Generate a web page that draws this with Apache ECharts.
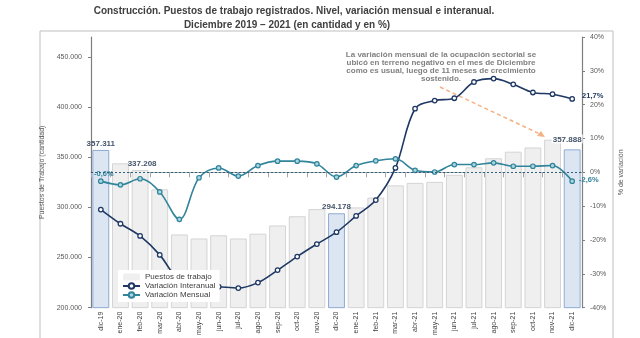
<!DOCTYPE html>
<html>
<head>
<meta charset="utf-8">
<script src="https://cdn.jsdelivr.net/npm/echarts@6/dist/echarts.min.js"></script>
<style>html,body{margin:0;padding:0;background:#fff}#c{width:640px;height:338px}</style>
</head>
<body>
<div id="c"></div>
<script>
const categories = ['dic-19','ene-20','feb-20','mar-20','abr-20','may-20','jun-20','jul-20','ago-20','sep-20','oct-20','nov-20','dic-20','ene-21','feb-21','mar-21','abr-21','may-21','jun-21','jul-21','ago-21','sep-21','oct-21','nov-21','dic-21'];
const puestos = [357311,344000,337208,318000,273000,269000,272200,269000,273800,282000,291200,298300,294178,300000,309800,322000,324500,325500,332600,340000,349000,355600,359800,367600,357888];
const interanual = [-11.0,-15.2,-18.8,-24.4,-32.0,-33.5,-33.8,-34.2,-32.6,-28.9,-24.9,-21.2,-17.7,-12.9,-8.2,1.3,18.8,21.2,21.9,26.7,27.7,26.0,23.6,23.1,21.7];
const mensual = [-2.6,-3.7,-1.9,-5.8,-13.9,-1.6,1.3,-1.1,2.0,3.3,3.3,2.5,-1.4,2.0,3.4,4.0,0.6,0.1,2.3,2.3,2.8,1.8,1.8,2.0,-2.6];
const highlighted = [0, 12, 24];
const barLabelIdx = [0, 2, 12, 24];
const leftTicks = {min: 200000, max: 470000, interval: 50000};
const rightTicks = {min: -40, max: 40, interval: 10};
const mensualLabels = {0: '-0,6%', 24: '-2,6%'};
const interanualLabels = {24: '21,7%'};
const titleLines = ['Construcción. Puestos de trabajo registrados. Nivel, variación mensual e interanual.', 'Diciembre 2019 – 2021 (en cantidad y en %)'];
const noteText = 'La variación mensual de la ocupación sectorial se\nubicó en terreno negativo en el mes de Diciembre\ncomo es usual, luego de 11 meses de crecimiento\nsostenido.';

const fmtThousands = v => String(v).replace(/\B(?=(\d{3})+(?!\d))/g, '.');
const FONT = 'Liberation Sans, Arial, sans-serif';

const barData = puestos.map((v, i) => {
  const hi = highlighted.includes(i);
  const item = {
    value: v,
    itemStyle: hi ? {color: '#dce6f2', borderColor: '#8eaad2', borderWidth: 1}
                  : {color: '#efefef', borderColor: '#d4d4d4', borderWidth: 1}
  };
  if (barLabelIdx.includes(i)) {
    item.label = {
      show: true, position: 'top', distance: 2,
      formatter: p => fmtThousands(p.value),
      fontSize: 8, fontWeight: 'bold', color: '#44546a', fontFamily: FONT,
      backgroundColor: i === 24 ? '#fff' : 'transparent', padding: [1, 1, 0, 1],
      offset: i === 24 ? [-5, -4] : (i === 2 ? [2, 0] : [0, 0])
    };
  }
  return item;
});

const mensData = mensual.map((v, i) => {
  const it = {value: v};
  if (mensualLabels[i]) {
    it.label = {
      show: true, formatter: mensualLabels[i], fontSize: 7.5, fontWeight: 'bold',
      color: '#31849b', fontFamily: FONT,
      position: i === 0 ? 'top' : 'right', distance: 4,
      offset: i === 0 ? [3, 4] : [0, -1]
    };
  }
  return it;
});
const interData = interanual.map((v, i) => {
  const it = {value: v};
  if (interanualLabels[i]) {
    it.label = {
      show: true, formatter: interanualLabels[i], fontSize: 7.5, fontWeight: 'bold',
      color: '#1f3864', fontFamily: FONT, position: 'right', distance: 7, offset: [0, -3]
    };
  }
  return it;
});

const chart = echarts.init(document.getElementById('c'));
chart.setOption({
  animation: false,
  backgroundColor: '#ffffff',
  textStyle: {fontFamily: FONT},
  grid: {left: 91, right: 58, top: 37, bottom: 26, containLabel: false},
  legend: {
    left: 118, top: 270, orient: 'vertical', itemGap: 1,
    itemWidth: 17, itemHeight: 7,
    backgroundColor: '#ffffff', padding: [3, 4, 3, 4],
    textStyle: {fontSize: 8, color: '#404040', fontFamily: FONT},
    data: ['Puestos de trabajo', 'Variación Interanual', 'Variación Mensual']
  },
  xAxis: {
    type: 'category', data: categories,
    axisLine: {lineStyle: {color: '#a6a6a6'}},
    axisTick: {show: true, alignWithLabel: false, lineStyle: {color: '#a6a6a6'}},
    axisLabel: {rotate: 90, fontSize: 7, color: '#404040', margin: 4, interval: 0}
  },
  yAxis: [
    {
      type: 'value', min: leftTicks.min, max: leftTicks.max, interval: leftTicks.interval,
      name: 'Puestos de Trabajo (cantidad)', nameLocation: 'middle', nameGap: 41, nameRotate: 90,
      nameTextStyle: {fontSize: 7, color: '#595959'},
      axisLine: {show: true, lineStyle: {color: '#7f7f7f', width: 1.2}},
      axisTick: {show: true, length: 3, lineStyle: {color: '#7f7f7f'}},
      axisLabel: {fontSize: 7, color: '#595959', margin: 9, showMaxLabel: false, formatter: fmtThousands},
      splitLine: {show: false}
    },
    {
      type: 'value', min: rightTicks.min, max: rightTicks.max, interval: rightTicks.interval,
      position: 'right',
      name: '% de variación', nameLocation: 'middle', nameGap: 20, nameRotate: 90,
      nameTextStyle: {fontSize: 7, color: '#595959'},
      axisLine: {show: true, lineStyle: {color: '#7f7f7f', width: 1.2}},
      axisTick: {show: true, length: 3, lineStyle: {color: '#7f7f7f'}},
      axisLabel: {fontSize: 7, color: '#595959', margin: 8, formatter: '{value}%'},
      splitLine: {show: false}
    }
  ],
  series: [
    {
      name: 'Puestos de trabajo', type: 'bar', yAxisIndex: 0, data: barData,
      barCategoryGap: '14%', itemStyle: {color: '#efefef', borderColor: '#d4d4d4'}, z: 1
    },
    {
      name: 'Variación Interanual', type: 'line', yAxisIndex: 1, data: interData,
      smooth: 0.35, symbol: 'circle', symbolSize: 4.5, showAllSymbol: true,
      lineStyle: {color: '#1f3864', width: 1.6},
      itemStyle: {color: '#ffffff', borderColor: '#1f3864', borderWidth: 1.3},
      emphasis: {disabled: true}, z: 3
    },
    {
      name: 'Variación Mensual', type: 'line', yAxisIndex: 1, data: mensData,
      smooth: 0.35, symbol: 'circle', symbolSize: 4.5, showAllSymbol: true,
      lineStyle: {color: '#31849b', width: 1.6},
      itemStyle: {color: '#a9d6df', borderColor: '#31849b', borderWidth: 1.2},
      emphasis: {disabled: true}, z: 3,
      markLine: {
        silent: true, symbol: 'none', animation: false,
        label: {show: false},
        lineStyle: {color: '#2f5f7f', type: [2, 2], width: 1.2},
        data: [{yAxis: 0}]
      }
    }
  ],
  graphic: [
    {type: 'rect', shape: {x: 40, y: 31, width: 573, height: 320}, style: {fill: 'none', stroke: '#bfbfbf', lineWidth: 1}, z: -1, silent: true},
    {type: 'text', x: 294, y: 6, style: {text: titleLines[0], align: 'center', font: 'bold 10px ' + FONT, fill: '#404040'}},
    {type: 'text', x: 287, y: 20, style: {text: titleLines[1], align: 'center', font: 'bold 10px ' + FONT, fill: '#404040'}},
    {type: 'text', x: 441, y: 51, style: {text: noteText, align: 'center', lineHeight: 7.8, font: 'bold 8px ' + FONT, fill: '#808080'}},
    {type: 'line', shape: {x1: 440, y1: 87, x2: 542, y2: 135}, style: {stroke: '#f4b183', lineWidth: 1.5, lineDash: [4, 3]}, silent: true},
    {type: 'polygon', shape: {points: [[545, 137], [537, 136], [541, 131]]}, style: {fill: '#f4b183'}, silent: true}
  ]
});
</script>
</body>
</html>
